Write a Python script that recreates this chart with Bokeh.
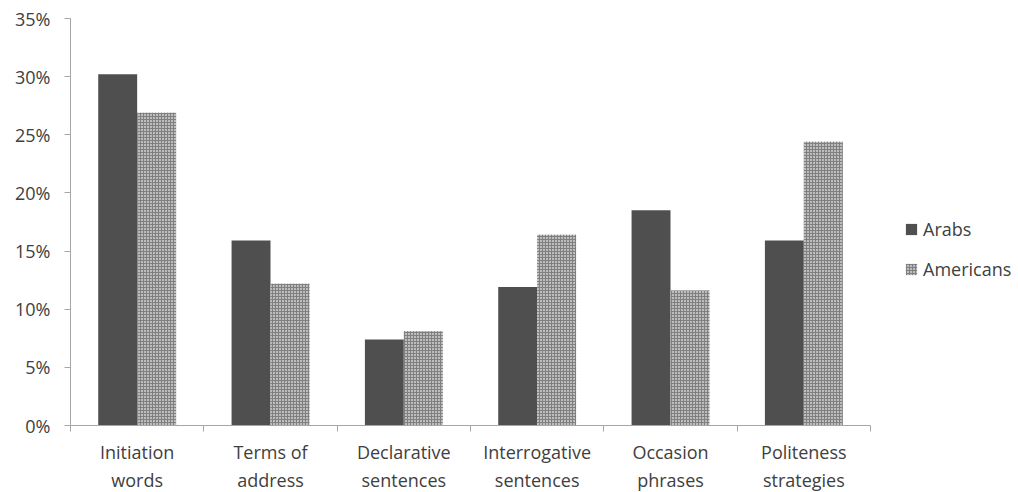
from bokeh.plotting import figure
from bokeh.models import Range1d, FixedTicker, Legend, LegendItem
from bokeh.embed import file_html
from bokeh.resources import INLINE

# Share of each greeting component, in percent
categories = ["Initiation\nwords", "Terms of\naddress", "Declarative\nsentences",
              "Interrogative\nsentences", "Occasion\nphrases", "Politeness\nstrategies"]
arabs = [30.2, 15.9, 7.4, 11.9, 18.5, 15.9]
americans = [26.9, 12.2, 8.1, 16.4, 11.6, 24.4]
y_ticks = [0, 5, 10, 15, 20, 25, 30, 35]

FONT = "Open Sans"
AXIS_GRAY = "#a6a6a6"
TEXT = "#404040"

n = len(categories)
centers = [i + 0.5 for i in range(n)]
bounds = list(range(n + 1))
bar_w = 0.292

# 800 px hold the six groups; the frame runs on to the right edge so the
# legend can sit beside the bars, and the x axis line stops at the last group
frame_w = 948
x_end = n * frame_w / 800

p = figure(frame_width=frame_w, frame_height=407, output_backend="svg", toolbar_location=None,
           x_range=Range1d(0, x_end), y_range=Range1d(0, 35),
           min_border_left=70, min_border_right=0, min_border_top=18,
           min_border_bottom=0)
p.outline_line_color = None
p.xgrid.grid_line_color = None
p.ygrid.grid_line_color = None
p.background_fill_color = "white"
p.border_fill_color = "white"

r1 = p.vbar(x=[c - bar_w / 2 for c in centers], top=arabs, width=bar_w,
            fill_color="#4f4f4f", line_color=None)
r2 = p.vbar(x=[c + bar_w / 2 for c in centers], top=americans, width=bar_w,
            fill_color="#bdbdbd", line_color=None,
            hatch_pattern="cross", hatch_color="#808080", hatch_scale=3, hatch_weight=1)

# x axis: labels centred under each group, ticks on the group boundaries
xa = p.xaxis[0]
xa.bounds = (0, n)
xa.ticker = FixedTicker(ticks=centers, minor_ticks=bounds)
xa.major_label_overrides = {c: lab for c, lab in zip(centers, categories)}
xa.major_tick_out = 0
xa.major_tick_in = 0
xa.minor_tick_out = 6
xa.minor_tick_in = 0
xa.minor_tick_line_color = AXIS_GRAY
xa.axis_line_color = AXIS_GRAY
xa.major_label_text_font = FONT
xa.major_label_text_font_size = "18px"
xa.major_label_text_line_height = 1.2
xa.major_label_text_color = TEXT
xa.major_label_standoff = 8

ya = p.yaxis[0]
ya.ticker = FixedTicker(ticks=y_ticks)
ya.major_label_overrides = {t: f"{t}%" for t in y_ticks}
ya.minor_tick_out = 0
ya.minor_tick_in = 0
ya.major_tick_out = 6
ya.major_tick_in = 0
ya.major_tick_line_color = AXIS_GRAY
ya.axis_line_color = AXIS_GRAY
ya.major_label_text_font = FONT
ya.major_label_text_font_size = "18px"
ya.major_label_text_color = TEXT
ya.major_label_standoff = 14

legend = Legend(items=[LegendItem(label="Arabs", renderers=[r1]),
                       LegendItem(label="Americans", renderers=[r2])],
                location=(834, 144), border_line_color=None,
                background_fill_alpha=0,
                label_text_font=FONT, label_text_font_size="18px",
                label_text_color=TEXT, glyph_width=14, glyph_height=14,
                spacing=16, padding=0, margin=0, label_standoff=5)
p.add_layout(legend)

open("out.html", "w").write(file_html(p, INLINE))
